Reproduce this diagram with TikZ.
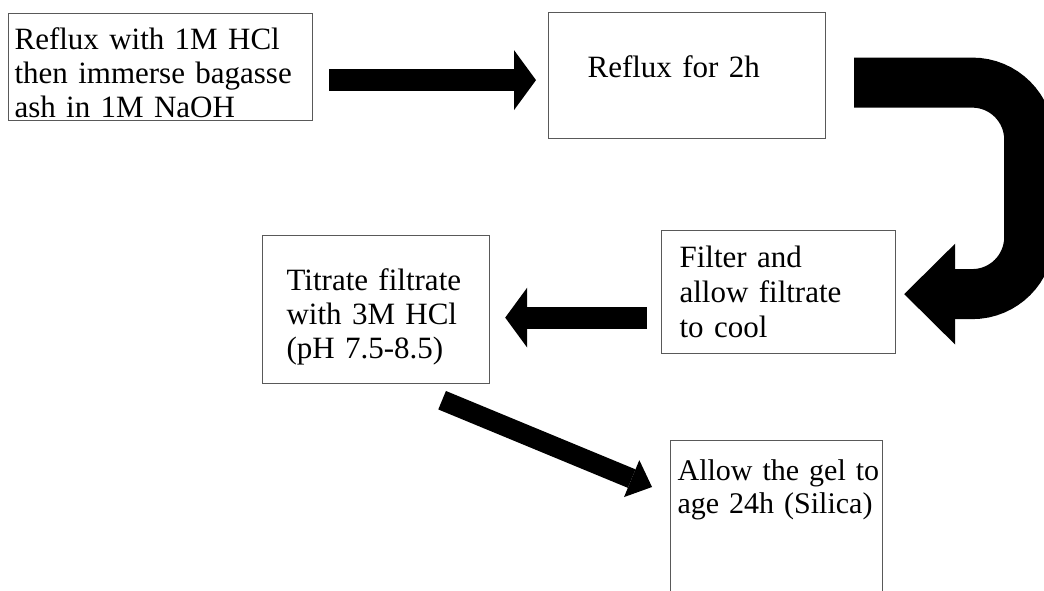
\documentclass[tikz,border=0pt]{standalone}
\usepackage{fontspec}
\setmainfont{Liberation Serif}[WordSpace=0.85]
\usetikzlibrary{arrows.meta}

\begin{document}
\begin{tikzpicture}[
  x=1pt, y=-1pt,
  font=\fontsize{31}{34}\selectfont,
  stepbox/.style={draw=black!65, line width=1.2pt, anchor=north west,
                  align=left, inner ysep=0pt},
  blk/.style={line width=22pt,
              -{Triangle[length=22pt, width=60pt, line width=0pt]}},
  slant/.style={line width=20pt,
                -{Triangle[length=22pt, width=40pt, line width=0pt]}},
  hookarr/.style={line width=50pt, rounded corners=57pt,
                  -{Triangle[length=51pt, width=101pt, line width=0pt]}}
]
\useasboundingbox (0,0) rectangle (1044,590);
\clip (0,0) rectangle (1044,590);

% ================= Row 1 =================
\node[stepbox, inner xsep=6pt, text width=292pt, text height=36pt, text depth=71pt] (hcl) at (8,13)
  {Reflux with 1M HCl\\ then immerse bagasse\\ ash in 1M NaOH};
\node[stepbox, inner xsep=39pt, text width=199pt, text height=65pt, text depth=61pt] (reflux) at (548,12)
  {Reflux for 2h};

% ================= Row 2 =================
\node[stepbox, inner xsep=18pt, text width=198pt, text height=37pt, text depth=86pt] (filt) at (661,230)
  {Filter and\\[1pt] allow filtrate\\[1pt] to cool};
\node[stepbox, inner xsep=24pt, text width=179pt, text height=55pt, text depth=93pt] (titr) at (262,235)
  {\mbox{Titrate filtrate}\\ with 3M HCl\\ (pH 7.5-8.5)};

% ================= Row 3 =================
\node[stepbox, font=\fontsize{30}{33}\selectfont, inner xsep=7pt, text width=198pt,
      text height=40pt, text depth=200pt] (gel) at (670,440)
  {\mbox{Allow the gel to}\\ \mbox{age 24h (Silica)}};

% ================= Arrows =================
\draw[blk, shorten <=16pt, shorten >=12pt] ([yshift=-13pt]hcl.east) -- ([yshift=-4.5pt]reflux.west);
\draw[hookarr, shorten <=28pt, shorten >=8pt] ([yshift=-7pt]reflux.east) -- ++(203,0) |- ([yshift=-2pt]filt.east);
\draw[blk, shorten <=14pt, shorten >=15pt] ([yshift=-25.5pt]filt.west) -- ([yshift=-8pt]titr.east);
\draw[slant] ([xshift=66pt, yshift=-16pt]titr.south) -- ([xshift=-18pt, yshift=-47pt]gel.north west);

\end{tikzpicture}
\end{document}
